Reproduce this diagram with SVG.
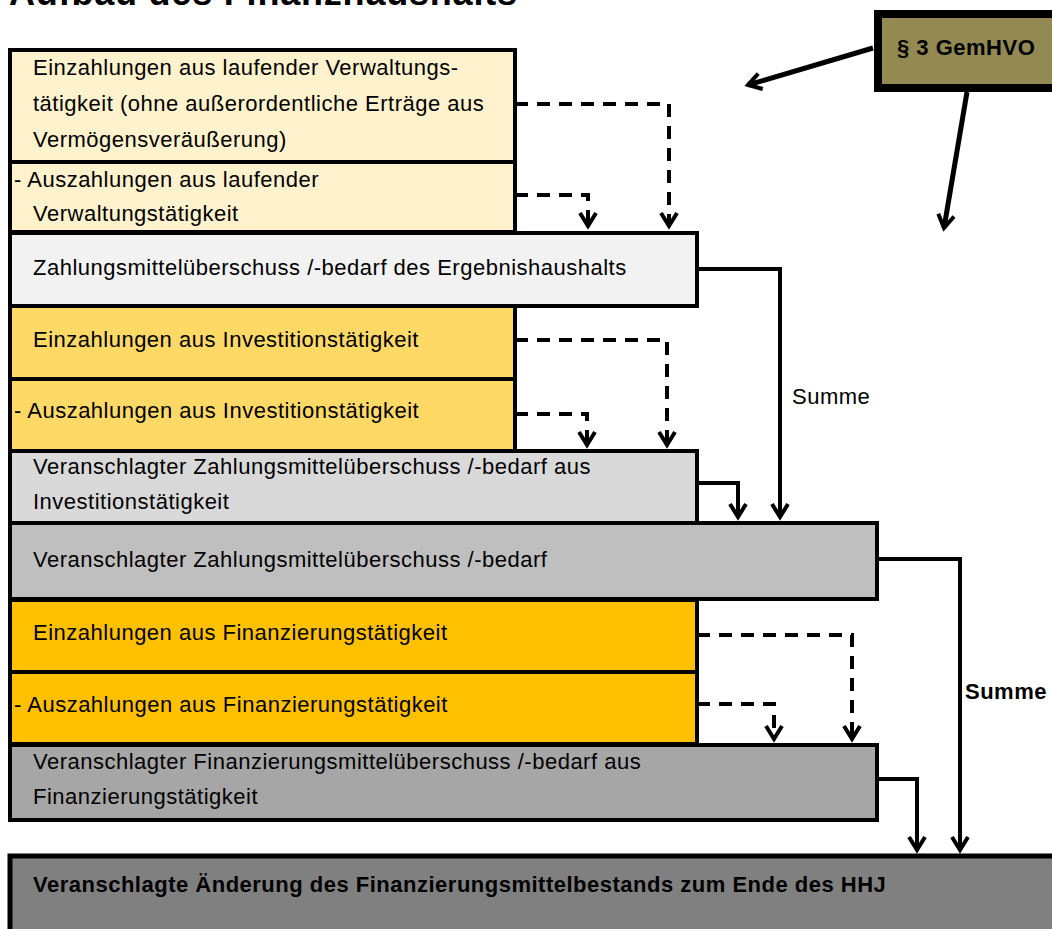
<svg xmlns="http://www.w3.org/2000/svg" width="1052" height="929" viewBox="0 0 1052 929">
  <style>
    .t { font-family: "Liberation Sans", Arial, sans-serif; font-size: 22px; letter-spacing: 0.5px; fill: #000; }
    .b { font-weight: bold; }
    .box { stroke: #000; stroke-width: 4; }
    .dash { fill: none; stroke: #000; stroke-width: 4; stroke-dasharray: 13 9; }
    .solid { fill: none; stroke: #000; stroke-width: 4; }
    .thick { fill: none; stroke: #000; stroke-width: 5; }
  </style>
  <defs>
    <marker id="ah" markerUnits="userSpaceOnUse" markerWidth="30" markerHeight="30" refX="0" refY="0" viewBox="-20 -15 30 30" orient="auto" overflow="visible">
      <path d="M-13,-8 L0,0 L-13,8" fill="none" stroke="#000" stroke-width="4" stroke-linejoin="miter"/>
    </marker>
  </defs>
  <rect width="1052" height="929" fill="#fff"/>
  <text class="t b" x="9" y="5" style="font-size:36px;letter-spacing:0.8px">Aufbau des Finanzhaushalts</text>

  <g id="n1"><rect class="box" x="10" y="50" width="505" height="112" fill="#FFF2CC"/>
    <text class="t" x="33" y="75">Einzahlungen aus laufender Verwaltungs-</text>
    <text class="t" x="33" y="111">tätigkeit (ohne außerordentliche Erträge aus</text>
    <text class="t" x="33" y="147">Vermögensveräußerung)</text></g>
  <g id="n2"><rect class="box" x="10" y="162" width="505" height="70" fill="#FFF2CC"/>
    <text class="t" x="14" y="187">- Auszahlungen aus laufender</text>
    <text class="t" x="33" y="221">Verwaltungstätigkeit</text></g>
  <g id="n3"><rect class="box" x="10" y="233" width="687" height="73" fill="#F2F2F2"/>
    <text class="t" x="33" y="275">Zahlungsmittelüberschuss /-bedarf des Ergebnishaushalts</text></g>
  <g id="n4"><rect class="box" x="10" y="306" width="505" height="73" fill="#FFD966"/>
    <text class="t" x="33" y="347">Einzahlungen aus Investitionstätigkeit</text></g>
  <g id="n5"><rect class="box" x="10" y="379" width="505" height="72" fill="#FFD966"/>
    <text class="t" x="14" y="418">- Auszahlungen aus Investitionstätigkeit</text></g>
  <g id="n6"><rect class="box" x="10" y="451" width="687" height="72" fill="#D9D9D9"/>
    <text class="t" x="33" y="474">Veranschlagter Zahlungsmittelüberschuss /-bedarf aus</text>
    <text class="t" x="33" y="509">Investitionstätigkeit</text></g>
  <g id="n7"><rect class="box" x="10" y="523" width="867" height="76" fill="#BFBFBF"/>
    <text class="t" x="33" y="567">Veranschlagter Zahlungsmittelüberschuss /-bedarf</text></g>
  <g id="n8"><rect class="box" x="10" y="600" width="687" height="72" fill="#FFC000"/>
    <text class="t" x="33" y="640">Einzahlungen aus Finanzierungstätigkeit</text></g>
  <g id="n9"><rect class="box" x="10" y="672" width="687" height="72" fill="#FFC000"/>
    <text class="t" x="14" y="712">- Auszahlungen aus Finanzierungstätigkeit</text></g>
  <g id="n10"><rect class="box" x="10" y="745" width="867" height="75" fill="#A6A6A6"/>
    <text class="t" x="33" y="769">Veranschlagter Finanzierungsmittelüberschuss /-bedarf aus</text>
    <text class="t" x="33" y="804">Finanzierungstätigkeit</text></g>
  <g id="n11"><rect x="10" y="856" width="1050" height="90" fill="#808080" stroke="#000" stroke-width="5"/>
    <text class="t b" x="33" y="892">Veranschlagte Änderung des Finanzierungsmittelbestands zum Ende des HHJ</text></g>
  <g id="n12"><rect x="878" y="14" width="180" height="74" fill="#938953" stroke="#000" stroke-width="8"/>
    <text class="t b" x="897" y="55">§ 3 GemHVO</text></g>

  <g id="connectors">
    <path class="dash" d="M515,104 H669 V226" marker-end="url(#ah)"/>
    <path class="dash" d="M515,195 H588 V226" marker-end="url(#ah)"/>
    <path class="dash" d="M515,340 H667 V445" marker-end="url(#ah)"/>
    <path class="dash" d="M515,414 H587 V445" marker-end="url(#ah)"/>
    <path class="dash" d="M697,635 H852 V739" marker-end="url(#ah)"/>
    <path class="dash" d="M697,704 H774 V739" marker-end="url(#ah)"/>
    <path class="solid" d="M697,269 H780 V517" marker-end="url(#ah)"/>
    <path class="solid" d="M697,483 H738 V517" marker-end="url(#ah)"/>
    <path class="solid" d="M877,559 H960 V850" marker-end="url(#ah)"/>
    <path class="solid" d="M877,779 H917 V850" marker-end="url(#ah)"/>
    <path class="thick" d="M873,48 L748,85" marker-end="url(#ah)"/>
    <path class="thick" d="M967,92 L944,228" marker-end="url(#ah)"/>
    <text class="t" x="792" y="404">Summe</text>
    <text class="t b" x="965" y="699">Summe</text>
  </g>
</svg>
